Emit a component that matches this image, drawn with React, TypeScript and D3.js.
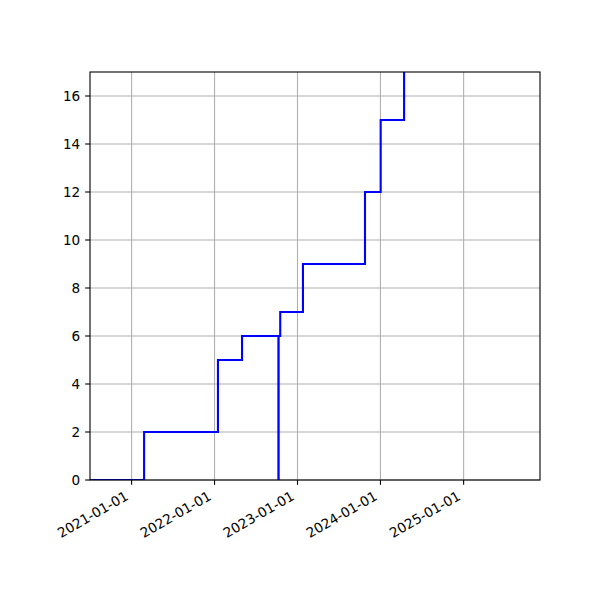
import * as d3 from "d3";

// step points: date, cumulative count
const stepDates = [
  "2020-07-02",
  "2021-02-25",
  "2022-01-16",
  "2022-05-02",
  "2022-10-09",
  "2022-10-10",
  "2022-10-17",
  "2023-01-25",
  "2023-10-25",
  "2024-01-02",
  "2024-04-14",
];
const stepValues = [0, 2, 5, 6, 0, 6, 7, 9, 12, 15, 17];

const xTickDates = ["2021-01-01", "2022-01-01", "2023-01-01", "2024-01-01", "2025-01-01"];
const yTicks = [0, 2, 4, 6, 8, 10, 12, 14, 16];
const xRange = ["2020-07-02", "2025-12-03"];
const yMax = 17;

const parse = d3.utcParse("%Y-%m-%d");

export default function App() {
  const width = 600;
  const height = 600;
  const marginLeft = 90;
  const marginRight = 60;
  const marginTop = 72;
  const marginBottom = 120;
  const fs = 13.6;

  const x = d3
    .scaleUtc()
    .domain(xRange.map((d) => parse(d) as Date))
    .range([marginLeft, width - marginRight]);
  const y = d3
    .scaleLinear()
    .domain([0, yMax])
    .range([height - marginBottom, marginTop]);

  const data: [Date, number][] = stepDates.map((d, i) => [parse(d) as Date, stepValues[i]]);
  const line = d3
    .line<[Date, number]>()
    .x((d) => x(d[0]))
    .y((d) => y(d[1]))
    .curve(d3.curveStepAfter);

  const bottom = height - marginBottom;
  const tickLen = 4.86;
  const labelH = 15;

  return (
    <div style={{ position: "absolute", left: 0, top: 0 }}>
      <svg width={width} height={height} style={{ display: "block", background: "#fff" }}
        fontFamily="DejaVu Sans" fontSize={fs}>
        <defs>
          <clipPath id="plot">
            <rect x={marginLeft} y={marginTop} width={width - marginLeft - marginRight}
              height={bottom - marginTop} />
          </clipPath>
        </defs>
        {/* grid */}
        {xTickDates.map((t) => (
          <line key={"gx" + t} x1={x(parse(t) as Date)} x2={x(parse(t) as Date)} y1={marginTop} y2={bottom}
            stroke="#b0b0b0" strokeWidth={1.1} />
        ))}
        {yTicks.map((t) => (
          <line key={"gy" + t} x1={marginLeft} x2={width - marginRight} y1={y(t)} y2={y(t)}
            stroke="#b0b0b0" strokeWidth={1.1} />
        ))}
        <path d={line(data) ?? ""} fill="none" stroke="blue" strokeWidth={2.1}
          clipPath="url(#plot)" />
        {/* spines */}
        <rect x={marginLeft} y={marginTop} width={width - marginLeft - marginRight}
          height={bottom - marginTop} fill="none" stroke="#000" strokeWidth={1.1} />
        {/* x ticks */}
        {xTickDates.map((t) => {
          const px = x(parse(t) as Date);
          return (
            <g key={"tx" + t}>
              <line x1={px} x2={px} y1={bottom} y2={bottom + tickLen} stroke="#000" strokeWidth={1.1} />
              <text transform={`translate(${px - labelH / 2},${bottom + tickLen + 4.86}) rotate(-30)`}
                textAnchor="end" y={10.5}>
                {t}
              </text>
            </g>
          );
        })}
        {/* y ticks */}
        {yTicks.map((t) => (
          <g key={"ty" + t}>
            <line x1={marginLeft - tickLen} x2={marginLeft} y1={y(t)} y2={y(t)} stroke="#000" strokeWidth={1.1} />
            <text x={marginLeft - tickLen - 4.86} y={y(t)} textAnchor="end" dominantBaseline="central">
              {t}
            </text>
          </g>
        ))}
      </svg>
    </div>
  );
}
